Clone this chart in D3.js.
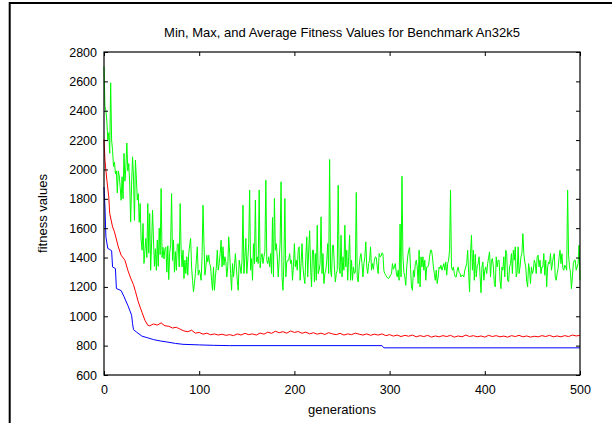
<!DOCTYPE html>
<html><head><meta charset="utf-8">
<script src="https://cdn.jsdelivr.net/npm/d3@7"></script>
<style>
html,body{margin:0;padding:0;background:#fff;}
svg{display:block;}
text{font-family:"Liberation Sans",Arial,Helvetica,sans-serif;fill:#000;}
</style></head>
<body><svg id="chart" width="612" height="423"></svg>
<script>
const title = "Min, Max, and Average Fitness Values for Benchmark An32k5";
const xLabel = "generations";
const yLabel = "fitness values";
const xTicks = [0, 100, 200, 300, 400, 500];
const yTicks = [600, 800, 1000, 1200, 1400, 1600, 1800, 2000, 2200, 2400, 2600, 2800];

// Max fitness, one value per generation 0..500
const maxVal = [
2700,2430,2400,2330,2200,2250,2110,2590,2200,2130,
2020,2050,1970,1990,1840,1990,1960,1880,1790,1950,
1800,2110,1920,2020,2180,1990,2040,1900,1643,1900,
2086,1950,1654,2064,1940,1791,1836,1640,1768,1520,
1450,1632,1360,1450,1530,1400,1768,1430,1700,1313,
1500,1723,1520,1340,1460,1313,1520,1340,1600,1420,
1870,1400,1470,1390,1460,1470,1300,1480,1250,1430,
1490,1836,1380,1520,1300,1440,1313,1490,1495,1336,
1768,1450,1336,1450,1257,1382,1291,1405,1280,1427,
1484,1530,1336,1245,1166,1223,1291,1382,1473,1280,
1314,1291,1245,1405,1757,1495,1280,1336,1416,1370,
1416,1359,1336,1245,1177,1336,1177,1268,1336,1450,
1314,1359,1427,1518,1336,1473,1348,1405,1370,1268,
1336,1541,1427,1291,1177,1359,1268,1336,1427,1336,
1245,1177,1382,1336,1291,1382,1757,1291,1405,1530,
1291,1382,1495,1859,1314,1393,1245,1495,1359,1791,
1370,1405,1359,1860,1330,1400,1427,1359,1405,1440,
1927,1380,1359,1405,1336,1427,1291,1673,1268,1802,
1450,1495,1405,1268,1382,1500,1916,1268,1177,1380,
1802,1268,1370,1382,1382,1427,1359,1382,1245,1340,
1495,1336,1382,1314,1450,1473,1245,1359,1495,1336,
1268,1223,1405,1541,1268,1450,1582,1336,1200,1450,
1450,1234,1427,1245,1620,1290,1314,1360,1677,1291,
1427,1223,1291,1314,1380,1495,1291,2068,1314,1268,
1484,1484,1336,1234,1290,1314,1893,1336,1291,1552,
1268,1405,1314,1620,1336,1450,1245,1405,1552,1245,
1382,1245,1336,1291,1300,1843,1268,1234,1336,1400,
1427,1359,1268,1360,1405,1507,1336,1291,1359,1380,
1473,1314,1359,1320,1382,1405,1400,1336,1291,1427,
1405,1410,1432,1427,1310,1291,1280,1268,1260,1257,
1268,1280,1291,1359,1320,1336,1359,1300,1268,1314,
1245,1627,1268,1954,1405,1300,1268,1211,1336,1405,
1450,1468,1325,1200,1177,1314,1268,1359,1382,1336,
1223,1450,1200,1405,1336,1405,1314,1382,1245,1336,
1336,1348,1405,1450,1450,1405,1336,1291,1245,1314,
1223,1268,1336,1325,1348,1314,1336,1359,1314,1370,
1280,1359,1382,1450,1859,1336,1314,1336,1291,1268,
1268,1314,1336,1300,1291,1268,1280,1280,1268,1314,
1336,1359,1450,1300,1166,1427,1552,1314,1450,1245,
1422,1268,1340,1359,1405,1280,1160,1336,1370,1245,
1314,1336,1291,1359,1400,1439,1268,1382,1393,1336,
1223,1200,1405,1336,1382,1382,1245,1188,1336,1314,
1405,1268,1450,1427,1245,1234,1336,1359,1427,1291,
1450,1382,1473,1268,1300,1473,1291,1336,1405,1430,
1563,1427,1370,1336,1240,1200,1359,1314,1223,1336,
1291,1314,1382,1359,1291,1405,1416,1336,1382,1291,
1336,1336,1427,1280,1382,1200,1336,1370,1359,1427,
1314,1359,1405,1427,1268,1245,1291,1325,1400,1450,
1359,1427,1325,1314,1348,1336,1314,1859,1416,1336,
1300,1188,1268,1359,1382,1382,1314,1336,1359,1484,
1245];

// Average fitness (generation, value)
const avgGen = [0,1,3,5,6,9,11,15,18,22,25,28,31,33,36,40,43,46,48,
52,56,60,64,68,72,76,80,84,88,92,96,100,104,108,112,116,120,124,128,132,136,140,144,148,
152,156,160,164,168,172,176,180,184,188,192,196,200,204,208,212,216,220,224,228,232,236,240,244,248,
252,256,260,264,268,272,276,280,284,288,292,296,300,304,308,312,316,320,324,328,332,336,340,344,348,
352,356,360,364,368,372,376,380,384,388,392,396,400,404,408,412,416,420,424,428,432,436,440,444,448,
452,456,460,464,468,472,476,480,484,488,492,496,500];
const avgVal = [2205,2064,1927,1814,1700,1609,1575,1473,1416,1382,1314,1260,1215,1170,1098,1025,973,939,935,
948,940,955,935,932,920,925,912,900,895,905,885,890,878,885,874,880,872,878,870,875,868,880,872,884,
875,880,872,886,878,892,884,898,888,895,885,900,890,896,884,892,880,888,878,885,876,888,880,875,884,
872,880,875,885,878,872,880,870,878,872,880,868,875,865,872,862,870,864,872,860,868,862,870,858,866,
860,868,862,870,858,866,860,872,862,868,860,866,858,870,862,868,860,865,858,868,862,870,860,866,858,
864,860,868,862,870,860,866,860,868,862,872,866,870];

// Min fitness (generation, value)
const minGen = [0,1,2,3,4,6,8,9,12,13,18,21,23,25,27,29,30,31,34,40,45,52,59,66,75,83,100,115,132,292,294,500];
const minVal = [1880,1745,1541,1500,1462,1455,1446,1336,1325,1189,1175,1134,1104,1075,1041,1007,950,909,893,864,855,841,832,825,815,809,805,802,800,800,785,785];

const svg = d3.select("#chart");
svg.append("rect").attr("width",612).attr("height",423).attr("fill","#fff");
// outer page border (top and left)
svg.append("path").attr("d","M9.7,423V3H612").attr("fill","none").attr("stroke","#000").attr("stroke-width",2);

const L=104, R=580, T=52, B=375;
const x = d3.scaleLinear().domain([0,500]).range([L,R]);
const y = d3.scaleLinear().domain([600,2800]).range([B,T]);

const line = d3.line().x(d=>x(d[0])).y(d=>y(d[1]));

const g = svg.append("g");
g.append("path").datum(maxVal.map((v,i)=>[i,v])).attr("d",line)
 .attr("fill","none").attr("stroke","#00ff00").attr("stroke-width",1);
g.append("path").datum(avgGen.map((k,i)=>[k,avgVal[i]])).attr("d",line)
 .attr("fill","none").attr("stroke","#ff0000").attr("stroke-width",1);
g.append("path").datum(minGen.map((k,i)=>[k,minVal[i]])).attr("d",line)
 .attr("fill","none").attr("stroke","#0000ff").attr("stroke-width",1);

function styleAxis(sel){
  sel.select(".domain").remove();
  sel.selectAll("line").attr("stroke","#000");
  sel.selectAll("text").attr("font-family","Liberation Sans, Arial, sans-serif").attr("font-size",12.5).attr("fill","#000");
}
svg.append("g").attr("transform",`translate(${L},0)`)
  .call(d3.axisLeft(y).tickValues(yTicks).tickSizeInner(-4).tickSizeOuter(0).tickPadding(7).tickFormat(d3.format("d")))
  .call(styleAxis);
svg.append("g").attr("transform",`translate(${R},0)`)
  .call(d3.axisRight(y).tickValues(yTicks).tickSizeInner(-4).tickSizeOuter(0).tickFormat(""))
  .call(styleAxis);
svg.append("g").attr("transform",`translate(0,${B})`)
  .call(d3.axisBottom(x).tickValues(xTicks).tickSizeInner(-4).tickSizeOuter(0).tickPadding(10).tickFormat(d3.format("d")))
  .call(styleAxis);
svg.append("g").attr("transform",`translate(0,${T})`)
  .call(d3.axisTop(x).tickValues(xTicks).tickSizeInner(-4).tickSizeOuter(0).tickFormat(""))
  .call(styleAxis);

svg.append("rect").attr("x",L).attr("y",T).attr("width",R-L).attr("height",B-T)
  .attr("fill","none").attr("stroke","#000").attr("stroke-width",1.2);

svg.append("text").attr("x",(L+R)/2).attr("y",37).attr("text-anchor","middle").attr("font-size",13).text(title);
svg.append("text").attr("x",(L+R)/2).attr("y",414).attr("text-anchor","middle").attr("font-size",13).text(xLabel);
svg.append("text").attr("transform",`translate(47,${(T+B)/2}) rotate(-90)`).attr("text-anchor","middle").attr("font-size",13).text(yLabel);
</script></body></html>
